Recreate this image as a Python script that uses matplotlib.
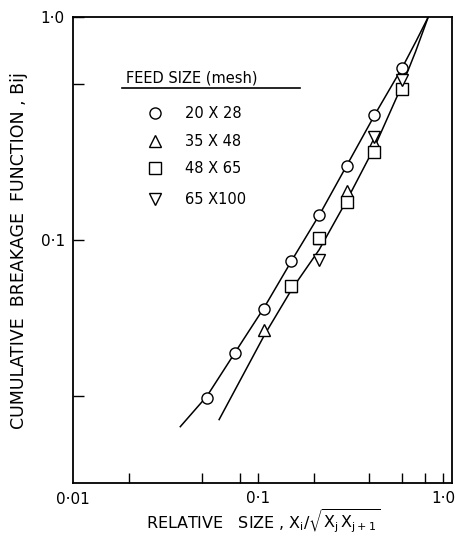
import numpy as np
import matplotlib
matplotlib.use('Agg')
import matplotlib.pyplot as plt
from matplotlib.ticker import FixedLocator, NullLocator

plt.rcParams['font.family'] = ['DejaVu Sans']
plt.rcParams['mathtext.fontset'] = 'dejavusans'

# relative size values (sqrt(2) sieve series)
x_20x28 = [0.053, 0.075, 0.107, 0.151, 0.214, 0.301, 0.424, 0.60]
b_20x28 = [0.0196, 0.0310, 0.0491, 0.0805, 0.129, 0.215, 0.364, 0.589]

x_35x48 = [0.107, 0.151, 0.214, 0.301, 0.424, 0.60]
b_35x48 = [0.0395, 0.0618, 0.102, 0.165, 0.272, 0.491]

x_48x65 = [0.151, 0.214, 0.301, 0.424, 0.60]
b_48x65 = [0.0618, 0.102, 0.1485, 0.249, 0.475]

x_65x100 = [0.214, 0.424, 0.60]
b_65x100 = [0.0813, 0.290, 0.522]

# fitted curves
fit1_x = [0.038, 0.053, 0.075, 0.107, 0.151, 0.214, 0.301, 0.424, 0.60, 0.70, 0.83]
fit1_b = [0.0145, 0.0199, 0.0312, 0.0491, 0.0801, 0.129, 0.215, 0.361, 0.592, 0.755, 1.0]
fit2_x = [0.0616, 0.107, 0.151, 0.214, 0.301, 0.424, 0.60, 0.70, 0.83]
fit2_b = [0.0156, 0.0368, 0.0595, 0.0904, 0.150, 0.259, 0.494, 0.679, 1.0]

series = [
    ('20 X 28', x_20x28, b_20x28, 'o'),
    ('35 X 48', x_35x48, b_35x48, '^'),
    ('48 X 65', x_48x65, b_48x65, 's'),
    ('65 X100', x_65x100, b_65x100, 'v'),
]

fig = plt.figure(figsize=(4.59, 5.37), dpi=100)
ax = fig.add_axes([0.159, 0.1006, 0.826, 0.8674])
ax.set_xscale('log')
ax.set_yscale('log')
ax.set_xlim(0.01, 1.118)
ax.set_ylim(0.0081, 1.0)


def smooth(xs, ys):
    lx = np.log10(xs)
    ly = np.log10(ys)
    t = np.linspace(lx[0], lx[-1], 300)
    return 10 ** t, 10 ** np.interp(t, lx, ly)


for fx, fb in [(fit1_x, fit1_b), (fit2_x, fit2_b)]:
    sx, sy = smooth(fx, fb)
    ax.plot(sx, sy, color='black', lw=1.1, zorder=2)

for name, xs, bs, m in series:
    ax.plot(xs, bs, linestyle='none', marker=m, ms=8, mfc='white',
            mec='black', mew=1.0, zorder=3)

ax.xaxis.set_major_locator(FixedLocator([0.02, 0.05, 0.08, 0.1, 0.2, 0.4, 0.6, 0.8, 1.0]))
ax.xaxis.set_minor_locator(NullLocator())
ax.set_xticklabels(['', '', '', '0·1', '', '', '', '', '1·0'])
ax.yaxis.set_major_locator(FixedLocator([0.02, 0.1, 0.5, 1.0]))
ax.yaxis.set_minor_locator(NullLocator())
ax.set_yticklabels(['', '0·1', '', '1·0'])
ax.tick_params(direction='in', length=7, width=1, labelsize=11, pad=6)
ax.tick_params(axis='y', length=8)
ax.text(0.01, -0.02, '0·01', transform=ax.get_xaxis_transform(), ha='center',
        va='top', fontsize=11)

for s in ax.spines.values():
    s.set_linewidth(1.3)

ax.set_xlabel(r'RELATIVE   SIZE , $\mathrm{X_i/\sqrt{X_j\,X_{j+1}}}$',
              fontsize=11.5, labelpad=1)
ax.set_ylabel('CUMULATIVE  BREAKAGE  FUNCTION , Bij', fontsize=12.5, labelpad=9)

# hand-drawn style legend block
ax.text(0.14, 0.869, 'FEED SIZE (mesh)', transform=ax.transAxes, fontsize=10.5,
        ha='left', va='center')
ax.plot([0.13, 0.6], [0.848, 0.848], transform=ax.transAxes, color='black', lw=1.2)
rows = [0.794, 0.734, 0.676, 0.609]
for (name, xs, bs, m), yr in zip(series, rows):
    ax.plot([0.216], [yr], transform=ax.transAxes, linestyle='none', marker=m,
            ms=8, mfc='white', mec='black', mew=1.0)
    ax.text(0.295, yr, name, transform=ax.transAxes, fontsize=10.5,
            ha='left', va='center')

fig.savefig('out.png', dpi=100)
